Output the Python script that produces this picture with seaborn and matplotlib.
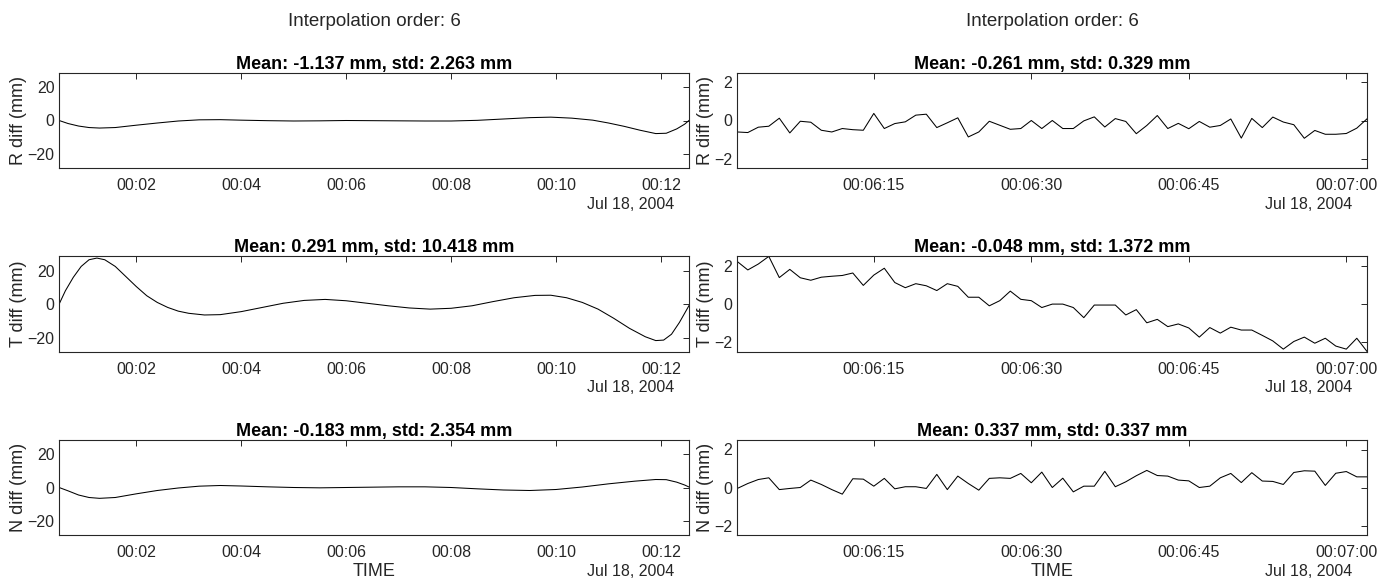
import numpy as np
import pandas as pd
import matplotlib
matplotlib.use("Agg")
import matplotlib.pyplot as plt
import matplotlib.dates as mdates
import seaborn as sns

# ---------------- data ----------------
day = pd.Timestamp("2004-07-18")

# left column: minutes after midnight
left_min = {
    "R": [0.53, 0.7, 0.9, 1.1, 1.3, 1.6, 2.0, 2.4, 2.8, 3.2, 3.6, 4.0, 4.5, 5.0, 5.5, 6.0,
          6.5, 7.0, 7.5, 8.0, 8.5, 9.0, 9.5, 9.9, 10.3, 10.7, 11.0, 11.3, 11.6, 11.9, 12.1,
          12.3, 12.45, 12.54],
    "T": [0.53, 0.65, 0.8, 0.95, 1.1, 1.25, 1.4, 1.6, 1.8, 2.0, 2.2, 2.4, 2.6, 2.8, 3.0,
          3.3, 3.6, 4.0, 4.4, 4.8, 5.2, 5.6, 6.0, 6.4, 6.8, 7.2, 7.6, 8.0, 8.4, 8.8, 9.2,
          9.6, 9.9, 10.2, 10.5, 10.8, 11.1, 11.4, 11.7, 11.9, 12.05, 12.2, 12.35, 12.45, 12.54],
    "N": [0.53, 0.7, 0.9, 1.1, 1.3, 1.6, 2.0, 2.4, 2.8, 3.2, 3.6, 4.0, 4.5, 5.0, 5.5, 6.0,
          6.5, 7.0, 7.5, 8.0, 8.5, 9.0, 9.5, 10.0, 10.5, 11.0, 11.5, 11.9, 12.1, 12.3,
          12.45, 12.54],
}
left_val = {
    "R": [0.0, -1.8, -3.3, -4.2, -4.5, -4.2, -2.8, -1.5, -0.3, 0.4, 0.5, 0.2, -0.1, -0.3,
          -0.2, 0.0, -0.1, -0.2, -0.3, -0.3, 0.1, 0.9, 1.7, 2.0, 1.4, 0.2, -1.5, -3.5, -5.8,
          -7.8, -7.6, -5.0, -2.2, 0.2],
    "T": [0.0, 8.0, 16.0, 22.5, 26.5, 27.5, 26.5, 22.5, 16.5, 10.5, 5.0, 1.0, -2.0, -4.2,
          -5.5, -6.5, -6.3, -4.5, -2.0, 0.5, 2.2, 2.8, 2.0, 0.5, -1.0, -2.3, -3.0, -2.5,
          -1.0, 1.5, 3.8, 5.2, 5.3, 3.8, 1.0, -3.0, -8.5, -14.5, -19.5, -21.8, -21.5, -18.0,
          -11.0, -5.5, -0.5],
    "N": [0.0, -2.0, -4.5, -6.0, -6.5, -6.0, -3.8, -1.8, -0.3, 0.8, 1.2, 0.9, 0.4, 0.0,
          -0.2, 0.0, 0.2, 0.4, 0.4, 0.0, -0.8, -1.5, -1.8, -1.2, 0.3, 2.2, 3.8, 4.8, 4.7,
          3.2, 1.5, 0.2],
}

# right column: one sample per second from 00:06:02 to 00:07:02
right_sec = list(range(362, 423))
right_val = {
    "R": [-0.6, -0.63, -0.35, -0.3, 0.12, -0.65, -0.04, -0.09, -0.51, -0.6,
          -0.42, -0.48, -0.51, 0.37, -0.42, -0.16, -0.07, 0.28, 0.33, -0.37,
          -0.12, 0.14, -0.86, -0.6, -0.04, -0.25, -0.46, -0.42, 0.0, -0.42,
          0.0, -0.42, -0.42, -0.02, 0.19, -0.34, 0.1, -0.05, -0.69, -0.26,
          0.26, -0.42, -0.15, -0.43, -0.05, -0.35, -0.26, 0.08, -0.92, 0.11,
          -0.37, 0.18, -0.08, -0.22, -0.93, -0.52, -0.72, -0.72, -0.68, -0.4, 0.1],
    "T": [2.23, 1.79, 2.1, 2.5, 1.39, 1.82, 1.38, 1.25, 1.41, 1.46,
          1.5, 1.63, 0.98, 1.52, 1.88, 1.13, 0.86, 1.07, 0.96, 0.71,
          1.07, 0.93, 0.36, 0.36, -0.09, 0.18, 0.68, 0.25, 0.18, -0.18,
          0.0, 0.0, -0.18, -0.71, -0.05, -0.05, -0.05, -0.57, -0.29, -0.98,
          -0.8, -1.18, -1.04, -1.25, -1.73, -1.23, -1.52, -1.21, -1.36, -1.36,
          -1.64, -1.93, -2.36, -1.96, -1.73, -2.05, -1.79, -2.2, -2.36, -1.79, -2.5],
    "N": [-0.05, 0.21, 0.42, 0.51, -0.11, -0.05, 0.0, 0.39, 0.16, -0.11,
          -0.35, 0.46, 0.44, 0.07, 0.48, -0.07, 0.04, 0.04, -0.05, 0.69,
          -0.11, 0.6, 0.21, -0.14, 0.48, 0.51, 0.48, 0.74, 0.25, 0.81,
          0.0, 0.49, -0.23, 0.07, 0.07, 0.85, 0.04, 0.3, 0.62, 0.9,
          0.63, 0.6, 0.39, 0.35, 0.0, 0.07, 0.51, 0.74, 0.26, 0.78,
          0.34, 0.32, 0.16, 0.79, 0.88, 0.86, 0.11, 0.75, 0.84, 0.56, 0.56],
}

components = ["R", "T", "N"]
left_titles = ["Mean: -1.137 mm, std: 2.263 mm",
               "Mean: 0.291 mm, std: 10.418 mm",
               "Mean: -0.183 mm, std: 2.354 mm"]
right_titles = ["Mean: -0.261 mm, std: 0.329 mm",
                "Mean: -0.048 mm, std: 1.372 mm",
                "Mean: 0.337 mm, std: 0.337 mm"]
suptitle = "Interpolation order: 6"
date_label = "Jul 18, 2004"

# ---------------- styling ----------------
sns.set_theme(style="white")
plt.rcParams["font.family"] = ["Liberation Sans", "DejaVu Sans"]
AX_COLOR = "#262626"

W, H = 1392, 581
fig = plt.figure(figsize=(W / 100, H / 100), dpi=100)

col_x = [(59.3, 689.0), (737.3, 1367.3)]
row_y = [(72.7, 168.3), (256.4, 351.8), (440.0, 535.0)]


def add_ax(cx, ry):
    x0, x1 = cx
    y0, y1 = ry
    return fig.add_axes([x0 / W, 1 - y1 / H, (x1 - x0) / W, (y1 - y0) / H])


def style_ax(ax):
    for s in ax.spines.values():
        s.set_color(AX_COLOR)
        s.set_linewidth(0.8)
        s.set_visible(True)
    ax.tick_params(direction="in", top=True, right=True, length=4.5, width=0.7,
                   color=AX_COLOR, labelcolor=AX_COLOR, labelsize=11.5)
    ax.tick_params(axis="x", pad=7)
    ax.tick_params(axis="y", pad=3.5)
    ax.grid(False)


def finish(ax, comp, title, col, r):
    style_ax(ax)
    ax.set_title(title, fontsize=13, fontweight="bold", pad=3, color="black")
    ax.set_ylabel(f"{comp} diff (mm)", fontsize=13, color=AX_COLOR)
    lab_off = 41 if col == 0 else 32
    ax.yaxis.set_label_coords(-lab_off / (col_x[col][1] - col_x[col][0]), 0.5)
    ax.yaxis.label.set_va("center")
    if r == 2:
        ax.set_xlabel("TIME", fontsize=13, color=AX_COLOR)
        ax.xaxis.set_label_coords(0.5, -36 / 95)
        ax.xaxis.label.set_va("center")
    else:
        ax.set_xlabel("")
    fig.text((col_x[col][1] - 15) / W, 1 - (row_y[r][1] + 36) / H, date_label,
             ha="right", va="center", fontsize=11.5, color=AX_COLOR)


for r, comp in enumerate(components):
    # left column
    ax = add_ax(col_x[0], row_y[r])
    dfl = pd.DataFrame({
        "time": day + pd.to_timedelta(left_min[comp], unit="min"),
        "val": left_val[comp],
    })
    sns.lineplot(data=dfl, x="time", y="val", ax=ax, color="black", linewidth=0.75)
    ax.set_xlim(day + pd.Timedelta(seconds=32), day + pd.Timedelta(seconds=752))
    ax.set_ylim(-28.5, 28.5)
    ax.set_yticks([-20, 0, 20])
    ax.xaxis.set_major_locator(mdates.MinuteLocator(byminute=range(0, 60, 2)))
    ax.xaxis.set_major_formatter(mdates.DateFormatter("%H:%M"))
    finish(ax, comp, left_titles[r], 0, r)

    # right column
    ax = add_ax(col_x[1], row_y[r])
    dfr = pd.DataFrame({
        "time": day + pd.to_timedelta(right_sec, unit="s"),
        "val": right_val[comp],
    })
    sns.lineplot(data=dfr, x="time", y="val", ax=ax, color="black", linewidth=0.75)
    ax.set_xlim(day + pd.Timedelta(seconds=362), day + pd.Timedelta(seconds=422))
    ax.set_ylim(-2.5, 2.5)
    ax.set_yticks([-2, 0, 2])
    ax.xaxis.set_major_locator(mdates.SecondLocator(bysecond=[0, 15, 30, 45]))
    ax.xaxis.set_major_formatter(mdates.DateFormatter("%H:%M:%S"))
    finish(ax, comp, right_titles[r], 1, r)

for cx in col_x:
    fig.text((cx[0] + cx[1]) / 2 / W, 1 - 22 / H, suptitle, ha="center", va="center",
             fontsize=13.5, color=AX_COLOR)

fig.savefig("out.png", dpi=100, facecolor="white")
